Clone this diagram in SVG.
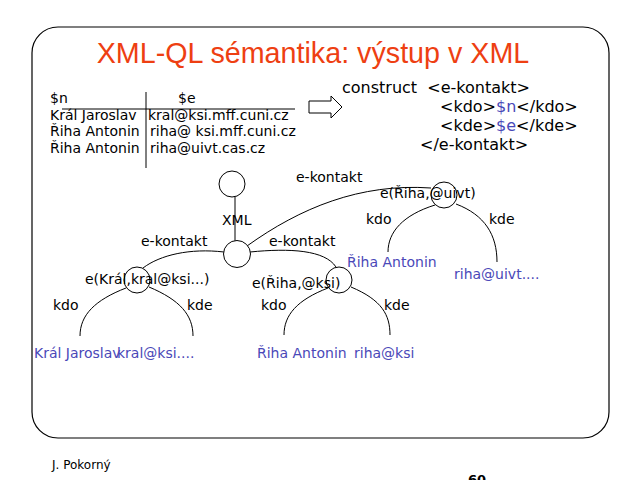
<svg xmlns="http://www.w3.org/2000/svg" width="640" height="480" viewBox="0 0 640 480">
<style>
text{font-family:"DejaVu Sans","Noto Sans",sans-serif;fill:#000}
.t{font-size:14px}
.lbl{font-size:14px}
.b{fill:#4a48b8}
.c{font-size:16px;white-space:pre}
.title{font-family:"Liberation Sans",Arial,sans-serif;font-size:28.7px;fill:#ee3f12}
.ln{fill:none;stroke:#000;stroke-width:1}
.node{fill:#fff;stroke:#000;stroke-width:1}
</style>
<rect x="32" y="27" width="577" height="411" rx="26" ry="26" fill="#fff" stroke="#000" stroke-width="1.2"/>
<text class="title" x="313" y="63" text-anchor="middle">XML-QL sémantika: výstup v XML</text>
<g id="table">
<line class="ln" x1="62" y1="109" x2="295" y2="109"/>
<line class="ln" x1="146" y1="92" x2="146" y2="168"/>
<text class="t" x="50" y="103">$n</text>
<text class="t" x="178" y="103">$e</text>
<text class="t" x="50" y="120">Král Jaroslav</text>
<text class="t" x="148" y="120">kral@ksi.mff.cuni.cz</text>
<text class="t" x="50" y="136">Řiha Antonin</text>
<text class="t" x="150" y="136">riha@ ksi.mff.cuni.cz</text>
<text class="t" x="50" y="153">Řiha Antonin</text>
<text class="t" x="150" y="153">riha@uivt.cas.cz</text>
</g>
<g id="arrow">
<path class="node" d="M309 101 H331 V96 L342 107 L331 118 V113 H309 Z"/>
</g>
<g id="construct">
<text class="c" x="342" y="93" xml:space="preserve">construct  &lt;e-kontakt&gt;</text>
<text class="c" x="440" y="112">&lt;kdo&gt;<tspan class="b">$n</tspan>&lt;/kdo&gt;</text>
<text class="c" x="440" y="131">&lt;kde&gt;<tspan class="b">$e</tspan>&lt;/kde&gt;</text>
<text class="c" x="420" y="150">&lt;/e-kontakt&gt;</text>
</g>
<g id="connectors">
<line class="ln" x1="235" y1="197" x2="235" y2="241"/>
<path class="ln" d="M224 252 C190 248 160 255 143 268"/>
<path class="ln" d="M250 252 C290 248 325 250 336 267"/>
<path class="ln" d="M247 246 C300 208 360 183 431 188"/>
<path class="ln" d="M126 288 C95 300 80 315 80 336"/>
<path class="ln" d="M149 287 C180 300 193 315 193 336"/>
<path class="ln" d="M328 288 C297 300 284 315 284 335"/>
<path class="ln" d="M351 287 C382 300 390 315 390 335"/>
<path class="ln" d="M435 205 C403 215 388 232 388 252"/>
<path class="ln" d="M456 204 C485 215 497 235 497 262"/>
</g>
<g id="n-root"><circle class="node" cx="232" cy="184" r="13"/></g>
<g id="n-xml"><circle class="node" cx="237" cy="254" r="13.5"/></g>
<g id="n-kral"><circle class="node" cx="137" cy="280" r="13"/></g>
<g id="n-riha-ksi"><circle class="node" cx="339" cy="280" r="13"/></g>
<g id="n-riha-uivt"><circle class="node" cx="444" cy="195" r="13"/></g>
<g id="labels">
<text class="lbl" x="222" y="225">XML</text>
<text class="lbl" x="141" y="246">e-kontakt</text>
<text class="lbl" x="269" y="246">e-kontakt</text>
<text class="lbl" x="296" y="182">e-kontakt</text>
<text class="lbl" x="85" y="284">e(Král,kral@ksi...)</text>
<text class="lbl" x="252" y="288">e(Řiha,@ksi)</text>
<text class="lbl" x="380" y="198">e(Řiha,@uivt)</text>
<text class="lbl" x="53" y="310">kdo</text>
<text class="lbl" x="187" y="310">kde</text>
<text class="lbl" x="261" y="310">kdo</text>
<text class="lbl" x="384" y="310">kde</text>
<text class="lbl" x="366" y="224">kdo</text>
<text class="lbl" x="489" y="224">kde</text>
<text class="lbl b" x="34" y="358">Král Jaroslav</text>
<text class="lbl b" x="117" y="358">kral@ksi....</text>
<text class="lbl b" x="257" y="358">Řiha Antonin</text>
<text class="lbl b" x="354" y="358">riha@ksi</text>
<text class="lbl b" x="347" y="267">Řiha Antonin</text>
<text class="lbl b" x="454" y="279">riha@uivt....</text>
</g>
<text x="52" y="469" style="font-size:12px">J. Pokorný</text>
<text x="468" y="484" style="font-size:13px;font-weight:bold">60</text>
</svg>
